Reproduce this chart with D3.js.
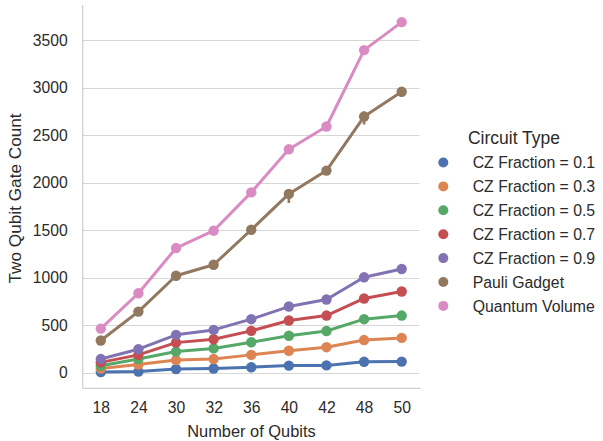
<!DOCTYPE html>
<html>
<head>
<meta charset="utf-8">
<script src="https://cdn.jsdelivr.net/npm/d3@7"></script>
<style>
  body { margin: 0; background: #fff; }
  svg { display: block; font-family: "Liberation Sans", Arial, sans-serif; }
</style>
</head>
<body>
<svg id="chart" width="603" height="441"></svg>
<script>
const qubits = ["18", "24", "30", "32", "36", "40", "42", "48", "50"];
const seriesNames = ["CZ Fraction = 0.1", "CZ Fraction = 0.3", "CZ Fraction = 0.5", "CZ Fraction = 0.7", "CZ Fraction = 0.9", "Pauli Gadget", "Quantum Volume"];
const cz01 = [6, 11, 38, 44, 57, 74, 76, 114, 116];
const cz03 = [44, 86, 132, 144, 187, 230, 268, 343, 366];
const cz05 = [73, 143, 222, 255, 320, 388, 438, 563, 601];
const cz07 = [108, 187, 316, 352, 440, 549, 601, 781, 854];
const cz09 = [143, 247, 398, 450, 563, 696, 770, 1004, 1091];
const pauli = [338, 643, 1020, 1136, 1505, 1882, 2128, 2697, 2958];
const qv = [464, 836, 1312, 1495, 1899, 2352, 2592, 3397, 3692];
const pauliCiLow = [338, 643, 1020, 1136, 1505, 1787, 2128, 2613, 2958];
const pauliCiHigh = [338, 643, 1020, 1136, 1505, 1930, 2128, 2750, 2958];
const yTicks = [0, 500, 1000, 1500, 2000, 2500, 3000, 3500];
const palette = ["#4C72B0", "#DD8452", "#55A868", "#C44E52", "#8172B3", "#937860", "#DA8BC3"];

const seriesValues = [cz01, cz03, cz05, cz07, cz09, pauli, qv];

const svg = d3.select("#chart");
const pLeft = 82.7, pRight = 420.5, pTop = 5, pBottom = 388.3;

const x = d3.scalePoint().domain(qubits).range([82, pRight]).padding(0.5);
const y = d3.scaleLinear().domain([-165, 3872]).range([pBottom, pTop]);

const textColor = "#2b2b2b";
const gridColor = "#d6d6d6";

// grid lines
svg.append("g").selectAll("line").data(yTicks).join("line")
  .attr("x1", pLeft).attr("x2", pRight - 1)
  .attr("y1", d => Math.round(y(d)) + 0.5).attr("y2", d => Math.round(y(d)) + 0.5)
  .attr("stroke", gridColor).attr("stroke-width", 1);

// y axis
const yAxis = d3.axisLeft(y).tickValues(yTicks).tickSize(0).tickPadding(15).tickFormat(d3.format("d"));
const gy = svg.append("g").attr("transform", `translate(${pLeft},0)`).call(yAxis);
gy.select(".domain").remove();
gy.selectAll("text").attr("font-size", "15.7px").attr("fill", textColor)
  .attr("font-family", "'Liberation Sans', Arial, sans-serif");

// x axis
const xAxis = d3.axisBottom(x).tickSize(0).tickPadding(13.5);
const gx = svg.append("g").attr("transform", `translate(0,${pBottom})`).call(xAxis);
gx.select(".domain").remove();
gx.selectAll("text").attr("font-size", "15.7px").attr("fill", textColor)
  .attr("font-family", "'Liberation Sans', Arial, sans-serif");

// spines
svg.append("line").attr("x1", pLeft).attr("x2", pLeft).attr("y1", pTop).attr("y2", pBottom)
  .attr("stroke", "#cfcfcf").attr("stroke-width", 1.2);
svg.append("line").attr("x1", pLeft).attr("x2", pRight).attr("y1", pBottom).attr("y2", pBottom)
  .attr("stroke", "#cfcfcf").attr("stroke-width", 1.2);

// axis labels
svg.append("text").attr("x", 251.5).attr("y", 436.7)
  .attr("text-anchor", "middle").attr("font-size", "16.4px").attr("fill", textColor)
  .text("Number of Qubits");
svg.append("text").attr("transform", `translate(20.5,198.4) rotate(-90)`)
  .attr("text-anchor", "middle").attr("font-size", "17.2px").attr("fill", textColor)
  .text("Two Qubit Gate Count");

// series
const line = d3.line().x((d, i) => x(qubits[i])).y(d => y(d));
seriesValues.forEach((vals, si) => {
  const g = svg.append("g");
  g.append("path").datum(vals).attr("d", line)
    .attr("fill", "none").attr("stroke", palette[si]).attr("stroke-width", 3)
    .attr("stroke-linejoin", "round");
  if (si === 5) {
    g.selectAll("line.ci").data(qubits).join("line").attr("class", "ci")
      .attr("x1", d => x(d)).attr("x2", d => x(d))
      .attr("y1", (d, i) => y(pauliCiLow[i])).attr("y2", (d, i) => y(pauliCiHigh[i]))
      .attr("stroke", palette[si]).attr("stroke-width", 2.6);
  }
  g.selectAll("circle").data(vals).join("circle")
    .attr("cx", (d, i) => x(qubits[i])).attr("cy", d => y(d))
    .attr("r", 5.2).attr("fill", palette[si]);
});

// legend
svg.append("text").attr("x", 514).attr("y", 143.5).attr("text-anchor", "middle")
  .attr("font-size", "17.5px").attr("fill", textColor).text("Circuit Type");
const leg = svg.append("g").selectAll("g").data(seriesNames).join("g")
  .attr("transform", (d, i) => `translate(0,${162.5 + i * 23.9})`);
leg.append("circle").attr("cx", 443.3).attr("cy", 0).attr("r", 5).attr("fill", (d, i) => palette[i]);
leg.append("text").attr("x", 472.7).attr("y", 5.6).attr("font-size", "15.8px")
  .attr("fill", textColor).text(d => d);
</script>
</body>
</html>
